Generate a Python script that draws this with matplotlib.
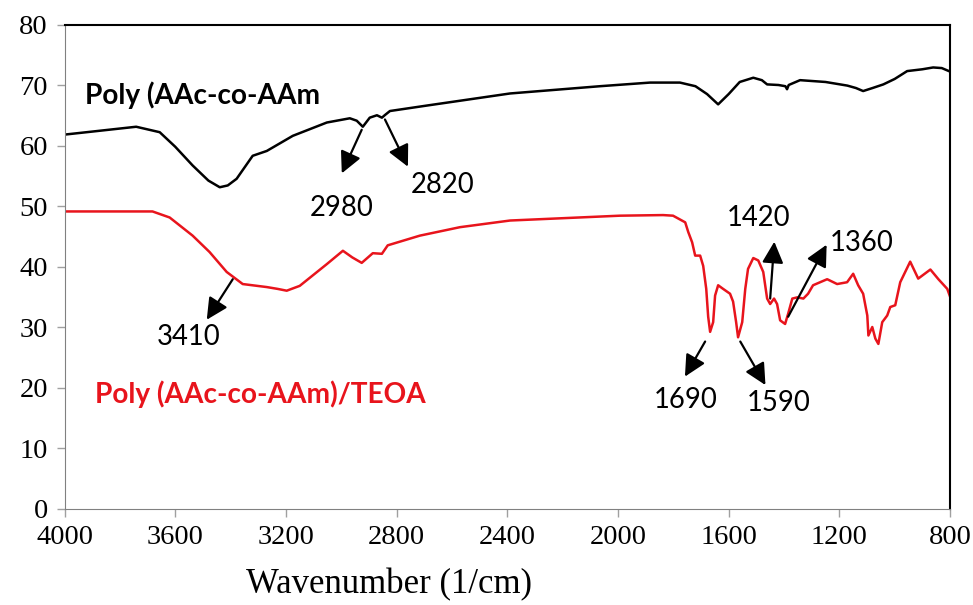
import matplotlib
matplotlib.use("Agg")
import matplotlib.pyplot as plt

# FTIR spectra
wn_copolymer = [4000, 3900, 3741, 3656, 3600, 3537, 3480, 3439, 3410, 3378, 3320, 3269,
                3175, 3052, 2969, 2944, 2922, 2897, 2871, 2853, 2843, 2824, 2691, 2390,
                2065, 1884, 1776, 1720, 1678, 1638, 1600, 1560, 1511, 1480, 1461, 1420,
                1395, 1389, 1383, 1342, 1250, 1171, 1140, 1114, 1080, 1041, 1000, 955,
                900, 861, 830, 799]
t_copolymer = [61.8, 62.3, 63.1, 62.2, 59.8, 56.7, 54.2, 53.1, 53.4, 54.5, 58.3, 59.1,
               61.6, 63.8, 64.5, 64.1, 63.1, 64.6, 65.0, 64.6, 65.0, 65.7, 66.6, 68.6,
               69.8, 70.4, 70.4, 69.8, 68.5, 66.8, 68.5, 70.5, 71.2, 70.8, 70.1, 70.0,
               69.8, 69.3, 70.0, 70.8, 70.5, 69.9, 69.5, 69.0, 69.5, 70.1, 71.0, 72.3,
               72.6, 72.9, 72.8, 72.2]

wn_teoa = [4000, 3682, 3620, 3537, 3476, 3414, 3356, 3269, 3230, 3197, 3150, 3052,
           2994, 2960, 2926, 2886, 2853, 2832, 2716, 2571, 2390, 1993, 1837, 1801,
           1757, 1746, 1732, 1721, 1703, 1692, 1681, 1674, 1667, 1656, 1649, 1638,
           1620, 1595, 1584, 1573, 1566, 1551, 1540, 1530, 1511, 1493, 1475, 1461,
           1450, 1436, 1425, 1414, 1396, 1385, 1370, 1352, 1330, 1313, 1295, 1244,
           1208, 1172, 1150, 1132, 1114, 1099, 1095, 1081, 1070, 1059, 1045, 1027,
           1016, 998, 980, 944, 915, 871, 842, 810, 799]
t_teoa = [49.1, 49.1, 48.1, 45.1, 42.4, 39.1, 37.1, 36.6, 36.3, 36.0, 36.8, 40.4,
          42.6, 41.5, 40.6, 42.2, 42.1, 43.5, 45.1, 46.5, 47.6, 48.4, 48.5, 48.4,
          47.3, 45.7, 44.0, 41.8, 41.8, 40.1, 36.3, 31.7, 29.2, 30.8, 35.2, 36.9,
          36.3, 35.5, 34.2, 30.8, 28.3, 30.8, 36.3, 39.6, 41.4, 41.0, 39.1, 34.7,
          33.8, 34.7, 33.8, 31.1, 30.5, 32.2, 34.7, 34.9, 34.7, 35.5, 36.9, 37.9,
          37.1, 37.4, 38.8, 36.9, 35.5, 31.9, 28.6, 30.0, 28.1, 27.2, 30.8, 31.9,
          33.3, 33.6, 37.4, 40.8, 38.0, 39.5, 37.9, 36.3, 34.9]

x_ticks = [4000, 3600, 3200, 2800, 2400, 2000, 1600, 1200, 800]
y_ticks = [0, 10, 20, 30, 40, 50, 60, 70, 80]

# peak labels: text, text position, arrow tail, arrow head
peak_labels = ["2980", "2820", "3410", "1420", "1360", "1690", "1590"]
label_pos = [(2997, 49.7), (2632, 53.5), (3550, 28.3), (1490, 48.0),
             (1118, 43.9), (1754, 17.9), (1418, 17.4)]
arrow_tail = [(2926, 62.6), (2842, 64.3), (3392, 37.9), (1450, 34.7),
              (1385, 31.7), (1685, 27.6), (1558, 27.6)]
arrow_head = [(2998, 55.4), (2759, 56.5), (3486, 31.2), (1435, 44.1),
              (1246, 43.6), (1758, 21.8), (1467, 20.4)]

red = "#e8141c"

fig = plt.figure(figsize=(9.73, 6.05), dpi=100)
ax = fig.add_axes([0.0663, 0.1595, 0.9101, 0.8])

ax.plot(wn_copolymer, t_copolymer, color="black", lw=1.8)
ax.plot(wn_teoa, t_teoa, color=red, lw=1.8)

ax.set_xlim(4000, 800)
ax.set_ylim(0, 80)
ax.set_xticks(x_ticks)
ax.set_yticks(y_ticks)

for lab, p, t, h in zip(peak_labels, label_pos, arrow_tail, arrow_head):
    ax.annotate("", xy=h, xytext=t,
                arrowprops=dict(arrowstyle="-|>,head_length=1.0,head_width=0.5",
                                mutation_scale=13, color="black", lw=1.6,
                                shrinkA=0, shrinkB=0))
    ax.text(p[0], p[1], lab, fontsize=19.8, family="Lato",
            ha="center", va="center")

ax.text(3925, 68.3, "Poly (AAc-co-AAm", fontsize=20.2, family="Lato",
        fontweight="bold", ha="left", va="center")
ax.text(3890, 18.9, "Poly (AAc-co-AAm)/TEOA", fontsize=20.2, family="Lato",
        fontweight="bold", color=red, ha="left", va="center")

ax.spines["left"].set_color("#808080")
ax.spines["bottom"].set_color("#808080")
ax.spines["top"].set_linewidth(1.5)
ax.spines["right"].set_linewidth(1.5)
ax.tick_params(direction="out", length=6, color="#a0a0a0", width=1,
               labelsize=20.5, pad=6)
for lbl in ax.get_xticklabels() + ax.get_yticklabels():
    lbl.set_family("Liberation Serif")
fig.text(389 / 973, 1 - 585 / 605, "Wavenumber (1/cm)", family="Liberation Serif",
         fontsize=25, ha="center", va="center")

fig.savefig("out.png", dpi=100)
